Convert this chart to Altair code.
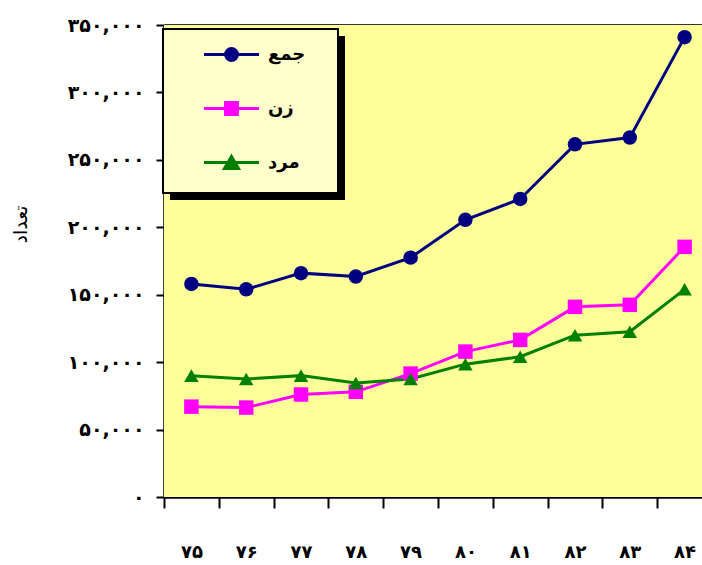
import json

import altair as alt
import pandas as pd

# Years (Persian calendar, shown with Persian digits)
years = ["۷۵", "۷۶", "۷۷", "۷۸", "۷۹", "۸۰", "۸۱", "۸۲", "۸۳", "۸۴"]
series_names = ["جمع", "زن", "مرد"]

total = [158000, 154000, 166000, 163500, 177500, 205500, 221000, 261500, 266500, 341000]
women = [67000, 66300, 76000, 78000, 91500, 107800, 116500, 141000, 142500, 185500]
men = [90000, 87500, 90000, 84500, 87500, 98500, 104000, 120000, 122500, 154000]

y_ticks = [0, 50000, 100000, 150000, 200000, 250000, 300000, 350000]
y_tick_labels = ["۰", "۵۰,۰۰۰", "۱۰۰,۰۰۰", "۱۵۰,۰۰۰", "۲۰۰,۰۰۰", "۲۵۰,۰۰۰", "۳۰۰,۰۰۰", "۳۵۰,۰۰۰"]

colors = ["#000080", "#FF00FF", "#008000"]
point_shapes = ["circle", "square", "triangle-up"]

# Legend symbols: a short line with the series marker on it (unit = sqrt(size)/2 px)
legend_paths = [
    "M-2.04,0H2.04M-0.44,0A0.44,0.44 0 1,0 0.44,0A0.44,0.44 0 1,0 -0.44,0Z",
    "M-2.04,0H2.04M-0.44,-0.44H0.44V0.44H-0.44Z",
    "M-2.04,0H2.04M0,-0.45L0.52,0.45H-0.52Z",
]

rows = []
for name, values in zip(series_names, [total, women, men]):
    for year, v in zip(years, values):
        rows.append({"year": year, "series": name, "value": v})
df = pd.DataFrame(rows)

FONT = "DejaVu Sans"

x_scale = alt.Scale(type="band", domain=years, range=[0, 548], paddingInner=0, paddingOuter=0)
y_scale = alt.Scale(domain=[0, 350000], nice=False)
color_scale = alt.Scale(domain=series_names, range=colors)

bottom_axis = alt.Axis(
    orient="bottom", title=None, tickBand="extent", tickSize=11, tickWidth=2,
    tickColor="black", domainColor="black", domainWidth=2.5,
    labelFont=FONT, labelFontSize=18, labelFontWeight="bold", labelColor="black",
    labelPadding=44, labelBaseline="middle", labelAngle=0, grid=False,
)
top_axis = alt.Axis(
    orient="top", title=None, labels=False, ticks=False,
    domainColor="#333333", domainWidth=3, grid=False,
)
y_label_expr = (
    json.dumps(y_tick_labels, ensure_ascii=False)
    + "[indexof(" + json.dumps(y_ticks) + ", datum.value)]"
)
y_axis = alt.Axis(
    values=y_ticks, labelExpr=y_label_expr, tickSize=8, tickWidth=2,
    tickColor="black", domainColor="black", domainWidth=2.5,
    labelFont=FONT, labelFontSize=19, labelFontWeight="bold", labelColor="black",
    labelPadding=12, grid=False,
    title="تعداد", titleFont=FONT, titleFontSize=19, titleFontWeight="normal",
    titleColor="black", titleX=-144, titleY=199, titleAngle=270,
    titleAlign="center", titleBaseline="middle",
)

# Plot-area background
plot_bg = alt.Chart(pd.DataFrame({"k": [0]})).mark_rect(fill="#FFFF99").encode(
    x=alt.value(0), x2=alt.value("width"), y=alt.value(0), y2=alt.value("height")
)

lines = alt.Chart(df).mark_line(strokeWidth=3).encode(
    x=alt.X("year:N", scale=x_scale, bandPosition=0.5, axis=bottom_axis),
    y=alt.Y("value:Q", scale=y_scale, axis=y_axis),
    color=alt.Color("series:N", scale=color_scale, legend=None),
)

points = alt.Chart(df).mark_point(filled=True, size=210, opacity=1).encode(
    x=alt.X("year:N", scale=x_scale, bandPosition=0.5, axis=top_axis),
    y=alt.Y("value:Q", scale=y_scale, axis=y_axis),
    color=alt.Color("series:N", scale=color_scale, legend=None),
    shape=alt.Shape("series:N", scale=alt.Scale(domain=series_names, range=point_shapes), legend=None),
)

legend_def = alt.Legend(
    orient="none", legendX=52.5, legendY=14.5, title=None, padding=0,
    labelFont=FONT, labelFontSize=18, labelFontWeight="bold", labelColor="black",
    labelOffset=21.5, rowPadding=27, symbolSize=729, symbolStrokeWidth=3,
    labelLimit=200, direction="vertical",
)
legend_layer = (
    alt.Chart(pd.DataFrame({"series": series_names}))
    .transform_filter("false")
    .mark_point(filled=True, size=729, strokeWidth=3, opacity=1)
    .encode(
        fill=alt.Fill("series:N", scale=alt.Scale(domain=series_names, range=colors), legend=legend_def),
        stroke=alt.Stroke("series:N", scale=alt.Scale(domain=series_names, range=colors), legend=legend_def),
        shape=alt.Shape("series:N", scale=alt.Scale(domain=series_names, range=legend_paths), legend=legend_def),
    )
)

# Legend frame with its drop shadow
frame_src = pd.DataFrame({"k": [0]})
shadow = alt.Chart(frame_src).mark_rect(color="black").encode(
    x=alt.value(6), x2=alt.value(181), y=alt.value(11), y2=alt.value(175)
)
frame = alt.Chart(frame_src).mark_rect(fill="#FFFFCC", stroke="black", strokeWidth=2).encode(
    x=alt.value(-1), x2=alt.value(174), y=alt.value(4), y2=alt.value(168)
)

chart = (
    alt.layer(plot_bg, shadow, frame, lines, points, legend_layer)
    .resolve_scale(fill="independent", stroke="independent", shape="independent")
    .properties(
        width=538, height=472,
        padding={"left": 164, "top": 25, "right": 0, "bottom": 68},
        autosize=alt.AutoSizeParams(type="none"),
        background="white",
    )
    .configure(font=FONT)
    .configure_view(stroke="transparent")
)

chart.save("out.html", embed_options={"renderer": "svg", "actions": False})
